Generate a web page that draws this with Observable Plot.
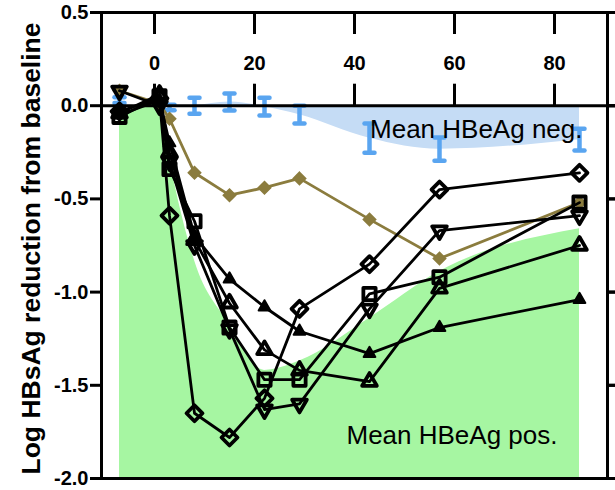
<!DOCTYPE html>
<html>
<head>
<meta charset="utf-8">
<script src="https://cdn.jsdelivr.net/npm/d3@7"></script>
<script src="https://cdn.jsdelivr.net/npm/@observablehq/plot@0.6"></script>
<style>
  html, body { margin: 0; padding: 0; background: #ffffff; }
  #chart { width: 615px; height: 490px; }
</style>
</head>
<body>
<div id="chart"></div>
<script>
// ---------- data ----------
const days = [-7, 1, 3, 8, 15, 22, 29, 43, 57, 85];
const xTicks = [0, 20, 40, 60, 80];
const yTicks = [0.5, 0, -0.5, -1, -1.5, -2];
const xDomain = [-10.6, 90.6];
const yDomain = [-2, 0.5];

// individual subjects
const ptDiamond  = [-0.03, 0.04, -0.59, -1.65, -1.78, -1.57, -1.09, -0.85, -0.45, -0.36];
const ptDown     = [0.08, 0.00, -0.30, -0.75, -1.20, -1.63, -1.60, -1.09, -0.67, -0.59];
const ptSquare   = [-0.06, 0.05, -0.34, -0.62, -1.19, -1.47, -1.47, -1.01, -0.92, -0.52];
const ptUpOpen   = [-0.04, 0.06, -0.25, -0.72, -1.06, -1.31, -1.42, -1.48, -0.98, -0.75];
const ptUpFilled = [-0.05, 0.03, -0.20, -0.70, -0.93, -1.08, -1.21, -1.33, -1.19, -1.04];
const ptGold     = [0.08, 0.01, -0.07, -0.36, -0.48, -0.44, -0.39, -0.61, -0.82, -0.52];

// group means
const negMean = [0.03, 0.02, -0.01, 0.00, 0.02, -0.005, -0.048, -0.174, -0.233, -0.182];
const negErr  = [0.015, 0.015, 0.015, 0.043, 0.046, 0.048, 0.048, 0.078, 0.062, 0.059];
const posMean = [-0.06, 0.02, -0.28, -0.83, -1.17, -1.42, -1.37, -1.14, -0.89, -0.66];

const labelNeg = "Mean HBeAg neg.";
const labelPos = "Mean HBeAg pos.";
const yLabel = "Log HBsAg reduction from baseline";

// ---------- tables ----------
const toRows = (vals) => days.map((d, i) => ({day: d, v: vals[i]}));
const negRows = days.map((d, i) => ({day: d, mean: negMean[i], lo: negMean[i] - negErr[i], hi: negMean[i] + negErr[i]}));
const negAreaRows = negRows.filter(r => r.day >= 1);
const posRows = toRows(posMean);
const topTickRows = xTicks.map(t => ({x: t, y: yDomain[1]}));
const zeroTickRows = xTicks.map(t => ({x: t, y: 0}));
const rightTickRows = yTicks.map(t => ({x: xDomain[1], y: t}));

// ---------- layout / styles ----------
const W = 615, H = 490, mL = 101, mR = 8, mT = 12, mB = 12;
const yPx = d3.scaleLinear().domain(yDomain).range([H - mB, mT]);
const topTickLen = 21, zeroTickLen = 22;

const BLACK = "#000000";
const GOLD = "#8b7c3e";
const BLUE = "#5aa5f0";
const BLUE_FILL = "#c5dcf5";
const GREEN_FILL = "#a6f6a2";

// segment symbols: length in px equals the dot radius r
const segSymbol = (dx, dy) => ({
  draw(ctx, size) {
    const L = Math.sqrt(size / Math.PI);
    ctx.moveTo(0, 0);
    ctx.lineTo(dx * L, dy * L);
  }
});
const tickDown = segSymbol(0, 1), tickUp = segSymbol(0, -1), tickRight = segSymbol(1, 0);
const capSymbol = {
  draw(ctx, size) {
    const w = Math.sqrt(size / Math.PI);
    ctx.moveTo(-w, 0);
    ctx.lineTo(w, 0);
  }
};
const downTriangle = {
  draw(ctx, size) {
    const s = Math.sqrt(size) * 0.6824, t = s * 0.5, u = s * Math.sqrt(3) / 2;
    ctx.moveTo(0, s);
    ctx.lineTo(u, -t);
    ctx.lineTo(-u, -t);
    ctx.closePath();
  }
};

const seriesSpecs = [
  {vals: ptUpFilled, symbol: "triangle2", fill: BLACK, r: 5.6, sw: 2},
  {vals: ptUpOpen,   symbol: "triangle2", fill: "none", r: 7.0, sw: 3.8},
  {vals: ptDown,     symbol: downTriangle, fill: "none", r: 7.0, sw: 3.8},
  {vals: ptSquare,   symbol: "square2",   fill: "none", r: 7.8, sw: 3.8},
  {vals: ptDiamond,  symbol: "diamond2",  fill: "none", r: 7.2, sw: 3.8}
];

const marks = [
  Plot.areaY(posRows, {x: "day", y1: yDomain[0], y2: "v", fill: GREEN_FILL, curve: "monotone-x"}),
  Plot.areaY(negAreaRows, {x: "day", y1: 0, y2: "mean", fill: BLUE_FILL, curve: "monotone-x"}),
  Plot.ruleX(negRows, {x: "day", y1: "lo", y2: "hi", stroke: BLUE, strokeWidth: 4.5}),
  Plot.dot(negRows, {x: "day", y: "lo", symbol: capSymbol, r: 5, stroke: BLUE, fill: "none", strokeWidth: 4.5, strokeLinecap: "round"}),
  Plot.dot(negRows, {x: "day", y: "hi", symbol: capSymbol, r: 5, stroke: BLUE, fill: "none", strokeWidth: 4.5, strokeLinecap: "round"}),
  Plot.line(toRows(ptGold), {x: "day", y: "v", stroke: GOLD, strokeWidth: 2.8}),
  Plot.dot(toRows(ptGold), {x: "day", y: "v", symbol: "diamond2", r: 5.6, fill: GOLD, stroke: GOLD, strokeWidth: 1.5})
];

for (const s of seriesSpecs) {
  marks.push(Plot.line(toRows(s.vals), {x: "day", y: "v", stroke: BLACK, strokeWidth: 2.8}));
}
for (const s of seriesSpecs) {
  marks.push(Plot.dot(toRows(s.vals), {x: "day", y: "v", symbol: s.symbol, r: s.r, fill: s.fill, stroke: BLACK, strokeWidth: s.sw, strokeLinejoin: "round"}));
}

marks.push(
  Plot.text([labelNeg], {text: d => d, frameAnchor: "top-right", textAnchor: "end", dx: -25, dy: 107, fontSize: 26, fontWeight: "normal", fill: BLACK}),
  Plot.text([labelPos], {text: d => d, frameAnchor: "bottom-right", textAnchor: "end", dx: -50, dy: -35, fontSize: 26, fontWeight: "normal", fill: BLACK}),
  // frame lines
  Plot.ruleY([yDomain[1], 0, yDomain[0]], {stroke: BLACK, strokeWidth: 3, insetRight: -8}),
  Plot.ruleX(xDomain, {stroke: BLACK, strokeWidth: 3}),
  // x ticks: hanging from the top frame, rising from the zero line (axis ticks shifted with dy)
  Plot.axisX({anchor: "top", ticks: xTicks, tickSize: topTickLen, tickFormat: () => "", dy: topTickLen, strokeWidth: 3, stroke: BLACK, label: null}),
  Plot.axisX({anchor: "top", ticks: xTicks, tickSize: zeroTickLen, tickFormat: () => "", dy: yPx(0) - mT, strokeWidth: 3, stroke: BLACK, label: null}),
  Plot.dot(topTickRows, {x: "x", y: "y", symbol: tickDown, r: topTickLen, stroke: BLACK, fill: "none", strokeWidth: 3}),
  Plot.dot(zeroTickRows, {x: "x", y: "y", symbol: tickUp, r: zeroTickLen, stroke: BLACK, fill: "none", strokeWidth: 3}),
  // right-side ticks
  Plot.axisY({anchor: "right", ticks: yTicks, tickSize: 8, tickFormat: () => "", strokeWidth: 3, stroke: BLACK, label: null}),
  Plot.dot(rightTickRows, {x: "x", y: "y", symbol: tickRight, r: 8, stroke: BLACK, fill: "none", strokeWidth: 3}),
  // x tick labels
  Plot.axisX({anchor: "top", ticks: xTicks, tickSize: 0, tickPadding: 0, dy: 57, label: null, fontSize: 20, fontWeight: "bold"}),
  // y axis
  Plot.axisY({anchor: "left", ticks: yTicks, tickSize: 11, tickPadding: 2, strokeWidth: 3, tickFormat: d => d.toFixed(1), label: null, fontSize: 20, fontWeight: "bold"}),
  // y axis title
  Plot.text([yLabel], {text: d => d, frameAnchor: "left", textAnchor: "middle", lineAnchor: "middle", rotate: -90, dx: -70, dy: 3, fontSize: 26.5, fontWeight: "bold", fill: BLACK})
);

const chart = Plot.plot({
  width: W,
  height: H,
  marginLeft: mL,
  marginRight: mR,
  marginTop: mT,
  marginBottom: mB,
  x: {domain: xDomain},
  y: {domain: yDomain},
  style: {fontFamily: "'Liberation Sans', Arial, Helvetica, sans-serif", fontWeight: "bold", fontSize: "20px", color: "#000", background: "#fff", overflow: "visible"},
  marks
});
document.getElementById("chart").appendChild(chart);
</script>
</body>
</html>
